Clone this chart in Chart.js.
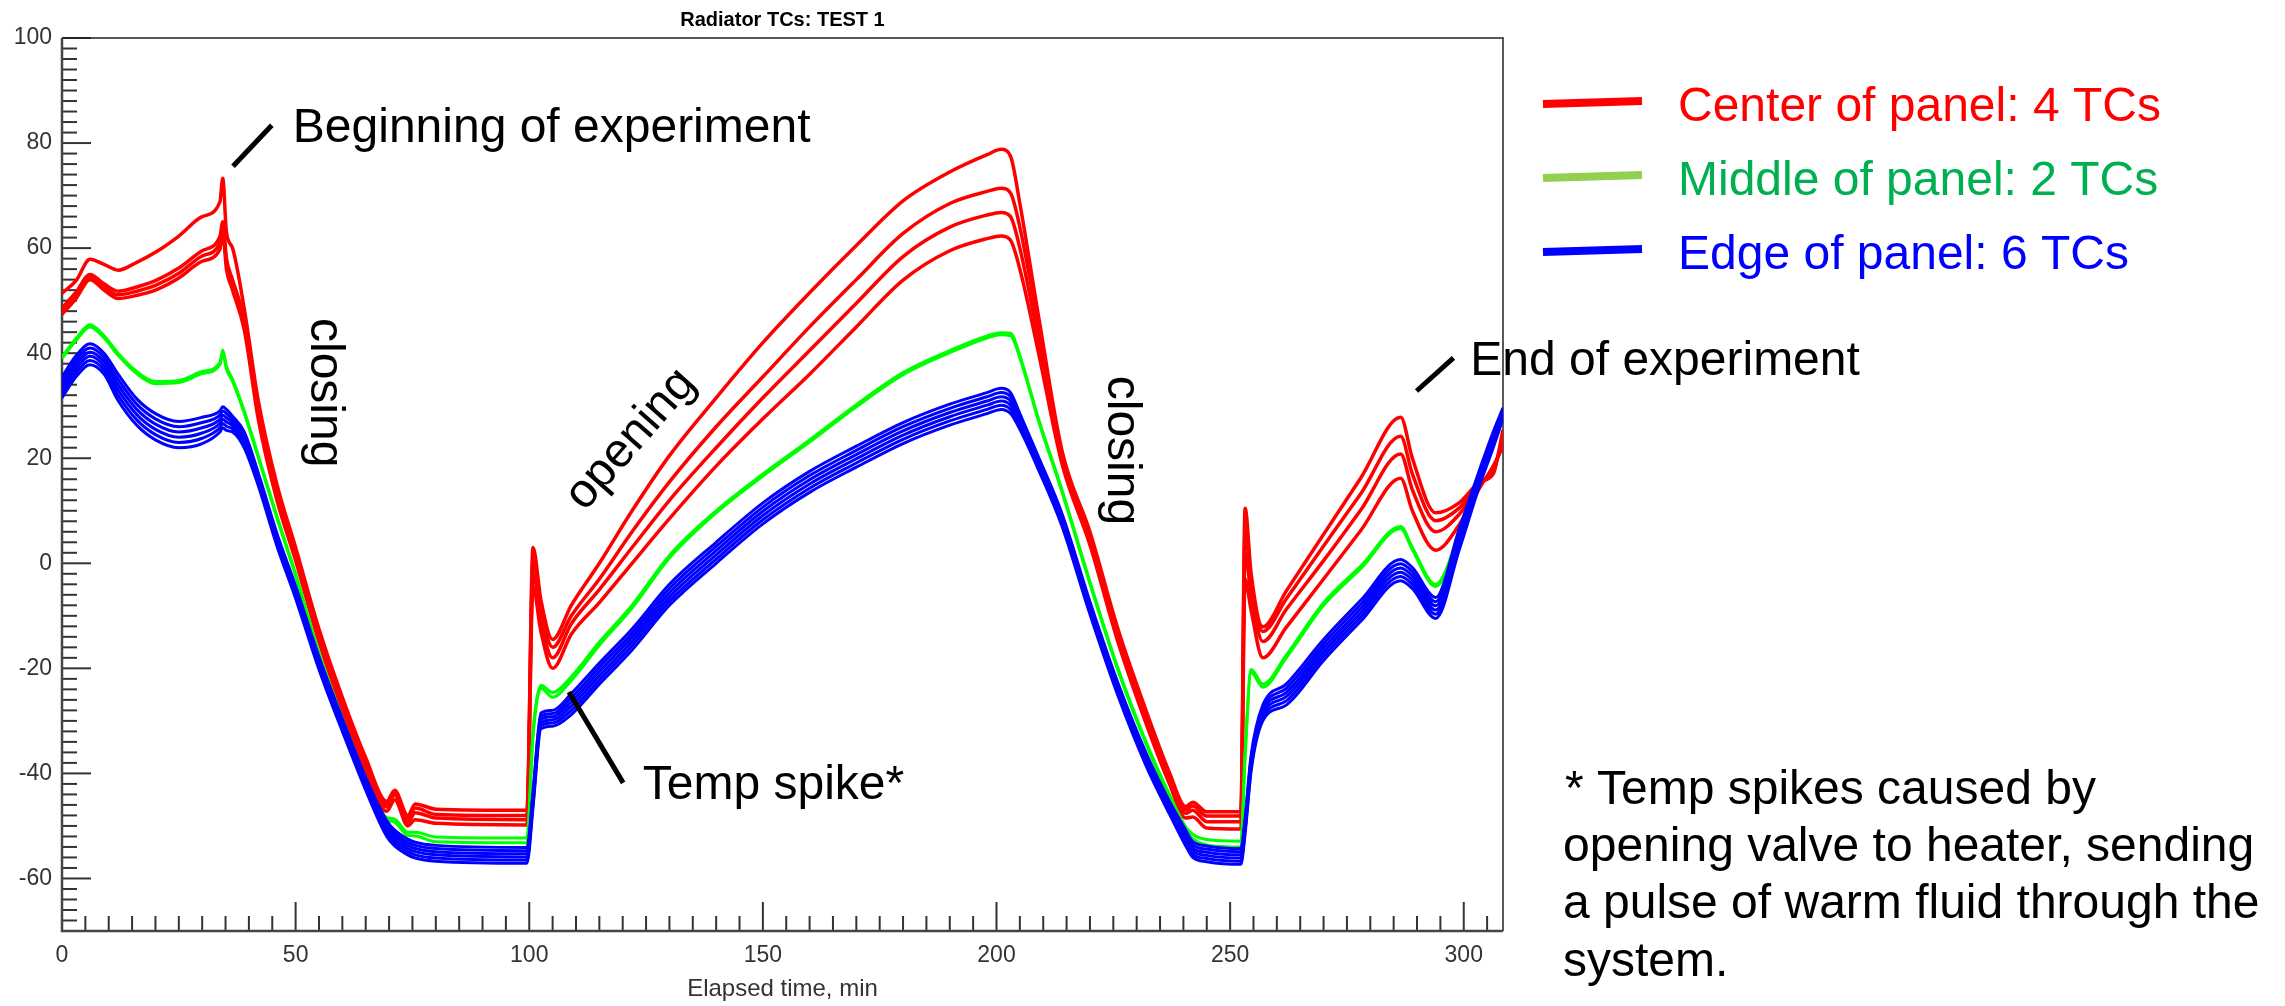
<!DOCTYPE html>
<html>
<head>
<meta charset="utf-8">
<title>Radiator TCs: TEST 1</title>
<script src="https://cdn.jsdelivr.net/npm/chart.js@4.4.1/dist/chart.umd.min.js"></script>
<style>
  html, body { margin: 0; padding: 0; background: #fff; }
  #wrap { width: 2285px; height: 1006px; }
</style>
</head>
<body>
<div id="wrap"><canvas id="tcChart" width="2285" height="1006"></canvas></div>
<script>
// elapsed time, min
const minutes = [0, 3, 6, 9, 12, 16, 20, 25, 30, 33.8,
  34.4, 35.2, 36.5, 39, 42, 46, 50, 55, 60, 65,
  69.5, 71.2, 74, 75.6, 80, 99.5, 100.8, 102.5, 105, 109,
  115, 122, 130, 140, 150, 160, 170, 180, 190, 198,
  201, 203, 205, 209, 214, 220, 226, 232, 237, 240.5,
  242, 245, 252.3, 253.2, 254.5, 257, 262, 270, 278, 286.5,
  289, 294, 299, 303.5, 306.3, 308.4];

// center of panel, 4 TCs
const center1 = [51.4, 53.8, 57.9, 56.9, 55.8, 57.3, 59.2, 62.3, 66, 68.8,
  73.3, 63, 60, 48.5, 31, 15, 3, -12.5, -25.5, -37,
  -45.3, -43.2, -48, -45.8, -46.8, -47, 3, -7, -14.5, -8,
  0, 10, 20.5, 31.5, 42, 51.5, 60.5, 69, 74.5, 77.8,
  78.8, 77.5, 68.5, 47, 21.5, 6, -12.5, -28, -39.8, -46.3,
  -45.5, -47.3, -47.3, 10.5, -2, -12.1, -5.3, 5.5, 16.3, 27.8,
  20, 9.6, 11.5, 15.5, 17, 25.4];
const center2 = [48.6, 51.6, 55, 53.2, 51.8, 52.6, 53.8, 56.2, 59.5, 62.2,
  65, 58, 54, 46.5, 29.5, 14, 2.3, -13.2, -26.2, -37.7,
  -45.8, -43.6, -48.6, -46.6, -47.8, -48, 0.5, -9, -16, -10,
  -3, 6, 15.5, 26, 35.5, 45, 54, 62.8, 68.5, 70.8,
  71.4, 70.5, 64, 45, 21, 5.3, -13.3, -28.8, -40.5, -46.9,
  -46.2, -48.1, -48.1, 6.5, -4, -13, -6.8, 3.3, 13.3, 24.2,
  17, 8.1, 10.5, 15.3, 17.5, 24];
const center3 = [48, 51, 54.5, 52.6, 51.1, 51.8, 52.9, 55.2, 58.5, 61,
  64, 57, 53, 45.5, 28.5, 13, 1.5, -14, -27, -38.5,
  -46.4, -44.1, -49.3, -47.5, -48.5, -48.8, -2, -11, -18, -11.5,
  -5, 3, 12, 22, 31.5, 40.5, 49.5, 58.4, 64, 66.3,
  66.8, 66, 60, 42.5, 20, 4.5, -14, -29.6, -41.2, -47.6,
  -47, -49.2, -49.2, 2, -6, -14.9, -8.8, 0.5, 10.2, 20.8,
  14, 6, 9.3, 15, 18, 23];
const center4 = [47.4, 50.4, 54, 52, 50.4, 51, 52, 54.3, 57.5, 59.8,
  63, 56, 52, 44.5, 27.5, 12, 0.5, -15, -28, -39.5,
  -47.2, -45, -50, -48.8, -49.5, -49.8, -4.5, -13, -20, -13.5,
  -7.5, 0, 8.5, 18.5, 27.5, 36, 45, 53.9, 59.5, 61.8,
  62.3, 61.5, 56, 40, 19, 3.5, -15, -30.5, -42, -48.5,
  -48.3, -50.4, -50.6, -3, -9, -18, -12.2, -3, 6.3, 16.2,
  10, 2.5, 7.3, 14.5, 18.5, 22.2];

// middle of panel, 2 TCs
const middle1 = [39.3, 42.8, 45.4, 43.3, 40, 36.5, 34.6, 34.8, 36.5, 38.2,
  40.6, 37.5, 35, 29, 20.5, 9, -2, -17, -29.5, -41,
  -48.4, -48.7, -51.2, -51.2, -52.1, -52.3, -32, -23.2, -24.6, -21.6,
  -15, -8, 1.5, 10, 17, 23.5, 30.2, 36.3, 40.5, 43.3,
  43.9, 43.8, 39.5, 27.5, 14, -3.5, -20, -34, -44, -50.2,
  -51.6, -52.6, -52.9, -36, -20.2, -23, -17.5, -7.5, -0.5, 7,
  3, -4, 5.5, 16.5, 22.5, 28];
const middle2 = [39, 42.4, 45, 42.9, 39.6, 36.1, 34.2, 34.4, 36.1, 37.8,
  40.1, 37, 34.6, 28.6, 20.1, 8.6, -2.4, -17.4, -29.9, -41.4,
  -48.8, -49.3, -51.8, -51.9, -53, -53.2, -33, -23.8, -25.5, -22.3,
  -15.6, -8.5, 1, 9.6, 16.6, 23.1, 29.8, 35.9, 40.1, 42.9,
  43.5, 43.3, 39.1, 27.1, 13.6, -3.9, -20.4, -34.4, -44.5, -50.8,
  -52.4, -53.6, -54, -37, -20.8, -23.6, -18, -8, -1, 6.6,
  2.6, -4.4, 5.1, 16.1, 22.2, 27.7];

// edge of panel, 6 TCs
const edge1 = [35.5, 39.5, 41.8, 40, 36, 31.3, 28.5, 27, 27.8, 29,
  29.8, 29.3, 28, 25, 17.2, 5.7, -4.3, -17.8, -29.6, -40.8,
  -49, -50.8, -52.5, -53.1, -53.7, -54.1, -43.5, -28.5, -28, -24.8,
  -19, -12.5, -4, 4, 11.5, 17.5, 22.3, 26.8, 30.3, 32.5,
  33.3, 32.5, 28.5, 20.2, 9.5, -7.3, -22.8, -36.1, -45.3, -50.8,
  -53, -53.8, -54.3, -48.5, -36.5, -27, -23, -14.5, -7, 0.7,
  -0.8, -6.5, 6.5, 18.1, 25, 29.6];
const edge2 = [34.7, 38.7, 41, 39.2, 35, 30.3, 27.5, 26, 26.8, 28.2,
  29, 28.5, 27.4, 24.4, 16.7, 5.2, -4.8, -18.3, -30.1, -41.3,
  -49.6, -51.4, -53.1, -53.7, -54.3, -54.7, -44.1, -29.1, -28.6, -25.6,
  -19.8, -13.3, -4.8, 3.2, 10.7, 16.7, 21.5, 26, 29.5, 31.7,
  32.5, 31.7, 27.9, 19.7, 9, -7.8, -23.3, -36.6, -45.8, -51.4,
  -53.6, -54.4, -54.9, -49.1, -37.1, -27.6, -23.8, -15.3, -7.8, -0.1,
  -1.6, -7.3, 5.7, 17.5, 24.4, 29.2];
const edge3 = [33.9, 37.9, 40.2, 38.4, 34, 29.3, 26.5, 25, 25.8, 27.4,
  28.2, 27.7, 26.8, 23.8, 16.2, 4.7, -5.3, -18.8, -30.6, -41.8,
  -50.2, -52, -53.7, -54.3, -54.9, -55.3, -44.7, -29.7, -29.2, -26.4,
  -20.6, -14.1, -5.6, 2.4, 9.9, 15.9, 20.7, 25.2, 28.7, 30.9,
  31.7, 30.9, 27.3, 19.2, 8.5, -8.3, -23.8, -37.1, -46.3, -52,
  -54.2, -55, -55.5, -49.7, -37.7, -28.2, -24.6, -16.1, -8.6, -0.9,
  -2.4, -8.1, 4.9, 16.9, 23.8, 28.8];
const edge4 = [33.1, 37.1, 39.4, 37.6, 33, 28.3, 25.5, 24, 24.8, 26.6,
  27.4, 26.9, 26.2, 23.2, 15.8, 4.3, -5.7, -19.2, -31, -42.2,
  -50.8, -52.6, -54.3, -54.9, -55.5, -55.9, -45.3, -30.3, -29.8, -27.2,
  -21.4, -14.9, -6.4, 1.6, 9.1, 15.1, 19.9, 24.4, 27.9, 30.1,
  30.9, 30.1, 26.7, 18.8, 8.1, -8.7, -24.2, -37.5, -46.7, -52.6,
  -54.8, -55.6, -56.1, -50.3, -38.3, -28.8, -25.4, -16.9, -9.4, -1.7,
  -3.2, -8.9, 4.1, 16.3, 23.2, 28.4];
const edge5 = [32.3, 36.3, 38.6, 36.8, 32, 27.3, 24.5, 23, 23.8, 25.8,
  26.6, 26.1, 25.6, 22.6, 15.3, 3.8, -6.2, -19.7, -31.5, -42.7,
  -51.4, -53.2, -54.9, -55.5, -56.1, -56.5, -45.9, -30.9, -30.4, -28,
  -22.2, -15.7, -7.2, 0.8, 8.3, 14.3, 19.1, 23.6, 27.1, 29.3,
  30.1, 29.3, 26.1, 18.3, 7.6, -9.2, -24.7, -38, -47.2, -53.2,
  -55.4, -56.2, -56.7, -50.9, -38.9, -29.4, -26.2, -17.7, -10.2, -2.5,
  -4, -9.7, 3.3, 15.7, 22.6, 28];
const edge6 = [31.5, 35.5, 37.8, 36, 31, 26.3, 23.5, 22, 22.8, 25,
  25.8, 25.3, 25, 22, 14.8, 3.3, -6.7, -20.2, -32, -43.2,
  -52, -53.8, -55.5, -56.1, -56.7, -57.1, -46.5, -31.5, -31, -28.8,
  -23, -16.5, -8, 0, 7.5, 13.5, 18.3, 22.8, 26.3, 28.5,
  29.3, 28.5, 25.5, 17.8, 7.1, -9.7, -25.2, -38.5, -47.7, -53.8,
  -56, -56.8, -57.3, -51.5, -39.5, -30, -27, -18.5, -11, -3.3,
  -4.8, -10.5, 2.5, 15.1, 22, 27.6];

const xTickValues = [0, 50, 100, 150, 200, 250, 300];
const yTickValues = [-60, -40, -20, 0, 20, 40, 60, 80, 100];
const legendLabels = ['Center of panel: 4 TCs', 'Middle of panel: 2 TCs', 'Edge of panel: 6 TCs'];
const footnoteLines = ['* Temp spikes caused by', 'opening valve to heater, sending',
  'a pulse of warm fluid through the', 'system.'];

const FONT = '"Liberation Sans", Arial, Helvetica, sans-serif';

function track(values) {
  return minutes.map((t, i) => ({x: t, y: values[i]}));
}

function tcLine(label, values, color, width, order) {
  return {
    label: label,
    data: track(values),
    borderColor: color,
    borderWidth: width,
    pointRadius: 0,
    fill: false,
    cubicInterpolationMode: 'monotone',
    borderJoinStyle: 'round',
    order: order
  };
}

const datasets = [];
[center1, center2, center3, center4].forEach((v, k) => datasets.push(tcLine('Center ' + (k + 1), v, '#ff0000', 3.5, 2)));
[middle1, middle2].forEach((v, k) => datasets.push(tcLine('Middle ' + (k + 1), v, '#00ff00', 3, 1)));
[edge1, edge2, edge3, edge4, edge5, edge6].forEach((v, k) => datasets.push(tcLine('Edge ' + (k + 1), v, '#0000ff', 3, 0)));

// frame and inward tick marks, like the original plot
const frameTicks = {
  id: 'frameTicks',
  beforeDatasetsDraw(chart) {
    const {ctx, chartArea: a, scales: {x, y}} = chart;
    ctx.save();
    ctx.strokeStyle = '#333';
    ctx.lineWidth = 2;
    for (let v = -70; v <= 100; v += 2) {
      const py = y.getPixelForValue(v);
      const len = v % 20 === 0 ? 29 : 15;
      ctx.beginPath();
      ctx.moveTo(a.left, py);
      ctx.lineTo(a.left + len, py);
      ctx.stroke();
    }
    for (let t = 0; t <= x.max; t += 5) {
      const px = x.getPixelForValue(t);
      const len = t % 50 === 0 ? 29 : 15;
      ctx.beginPath();
      ctx.moveTo(px, a.bottom);
      ctx.lineTo(px, a.bottom - len);
      ctx.stroke();
    }
    // top and right border
    ctx.strokeStyle = '#222';
    ctx.lineWidth = 1.5;
    ctx.beginPath();
    ctx.moveTo(a.left, a.top);
    ctx.lineTo(a.right, a.top);
    ctx.lineTo(a.right, a.bottom);
    ctx.stroke();
    // axis lines
    ctx.strokeStyle = '#444';
    ctx.lineWidth = 2.5;
    ctx.beginPath();
    ctx.moveTo(a.left, a.top);
    ctx.lineTo(a.left, a.bottom);
    ctx.lineTo(a.right, a.bottom);
    ctx.stroke();
    ctx.restore();
  }
};

// text notes, pointers, legend and footnote
const notes = {
  id: 'notes',
  afterDraw(chart) {
    const {ctx, scales: {x, y}} = chart;
    const px = t => x.getPixelForValue(t);
    const py = v => y.getPixelForValue(v);
    ctx.save();
    ctx.font = '48px ' + FONT;
    ctx.fillStyle = '#000';
    ctx.strokeStyle = '#000';
    ctx.textBaseline = 'alphabetic';
    ctx.textAlign = 'left';

    // pointers (in data units)
    ctx.lineWidth = 5;
    [[36.6, 75.6, 44.9, 83.4], [289.9, 32.8, 297.8, 39.1], [108.5, -24.5, 120.1, -41.8]].forEach(p => {
      ctx.beginPath();
      ctx.moveTo(px(p[0]), py(p[1]));
      ctx.lineTo(px(p[2]), py(p[3]));
      ctx.stroke();
    });

    ctx.fillText('Beginning of experiment', px(49.4), py(80.2));
    ctx.fillText('End of experiment', px(301.4), py(35.9));
    ctx.fillText('Temp spike*', px(124.3), py(-44.9));

    // rotated phase labels
    [[53.3, 46.7], [223.9, 35.7]].forEach(p => {
      ctx.save();
      ctx.translate(px(p[0]), py(p[1]));
      ctx.rotate(Math.PI / 2);
      ctx.fillText('closing', 0, 0);
      ctx.restore();
    });
    ctx.save();
    ctx.translate(px(123.9), py(21.9));
    ctx.rotate(-48.6 * Math.PI / 180);
    ctx.textAlign = 'center';
    ctx.fillText('opening', 0, 0);
    ctx.restore();

    // legend
    const swatch = ['#ff0000', '#92d050', '#0000ff'];
    const ink = ['#ff0000', '#00b050', '#0000ff'];
    legendLabels.forEach((txt, i) => {
      const ly = 102 + i * 74;
      ctx.strokeStyle = swatch[i];
      ctx.lineWidth = 8;
      ctx.beginPath();
      ctx.moveTo(1543, ly + 2);
      ctx.lineTo(1642, ly - 1);
      ctx.stroke();
      ctx.fillStyle = ink[i];
      ctx.fillText(txt, 1678, ly + 19);
    });

    // footnote
    ctx.fillStyle = '#000';
    footnoteLines.forEach((txt, i) => {
      ctx.fillText(txt, i === 0 ? 1565 : 1563, 804 + i * 57.2);
    });
    ctx.restore();
  }
};

new Chart(document.getElementById('tcChart').getContext('2d'), {
  type: 'line',
  data: { datasets: datasets },
  options: {
    responsive: false,
    animation: false,
    devicePixelRatio: 1,
    layout: { padding: { left: 0, top: 0, right: 782, bottom: 0 } },
    plugins: {
      legend: { display: false },
      tooltip: { enabled: false },
      title: {
        display: true,
        text: 'Radiator TCs: TEST 1',
        fullSize: false,
        color: '#000',
        font: { family: FONT, size: 20, weight: 'bold' },
        padding: { top: 8, bottom: 6 }
      }
    },
    scales: {
      x: {
        type: 'linear',
        min: 0,
        max: 308.4,
        grid: { display: false, drawTicks: false },
        border: { display: false },
        ticks: { color: '#333', font: { family: FONT, size: 23 }, padding: 11, maxRotation: 0, autoSkip: false },
        afterBuildTicks: s => { s.ticks = xTickValues.map(v => ({ value: v })); },
        afterFit: s => { s.height = 75; },
        title: {
          display: true,
          text: 'Elapsed time, min',
          color: '#333',
          font: { family: FONT, size: 24 },
          padding: { top: 0, bottom: 2 }
        }
      },
      y: {
        type: 'linear',
        min: -70,
        max: 100,
        grid: { display: false, drawTicks: false },
        border: { display: false },
        ticks: { color: '#333', font: { family: FONT, size: 23 }, padding: 10 },
        afterBuildTicks: s => { s.ticks = yTickValues.map(v => ({ value: v })); },
        afterFit: s => { s.width = 62; }
      }
    }
  },
  plugins: [frameTicks, notes]
});
</script>
</body>
</html>
